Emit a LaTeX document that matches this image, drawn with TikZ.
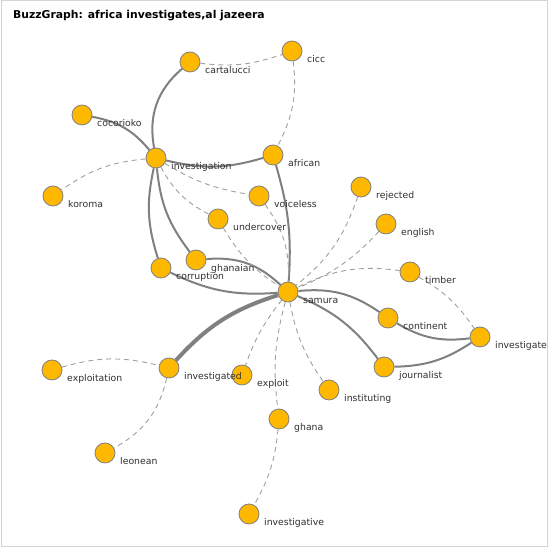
\documentclass[tikz,border=0pt]{standalone}
\usepackage{fontspec}
\setmainfont{DejaVu Sans}
\usepackage{xcolor}

\definecolor{termfill}{HTML}{FFB800}
\definecolor{termline}{HTML}{808080}
\definecolor{linkgray}{HTML}{808080}
\definecolor{dashgray}{HTML}{A0A0A0}
\definecolor{tagtext}{HTML}{303030}
\definecolor{framegray}{HTML}{D4D4D4}

\pgfdeclarelayer{back}
\pgfdeclarelayer{edges}
\pgfsetlayers{back,edges,main}

\tikzset{
  term/.style={circle, draw=termline, fill=termfill, line width=0.8pt, minimum size=20pt, inner sep=0pt},
  tag/.style={anchor=base west, inner sep=0pt, text=tagtext, font=\fontsize{9.3}{11}\selectfont},
  link/.style={draw=linkgray, line width=2pt},
  heavy/.style={draw=linkgray, line width=4pt},
  weak/.style={draw=dashgray, line width=0.9pt, dash pattern=on 5pt off 4pt},
}

\begin{document}
\begin{tikzpicture}[x=1pt, y=1pt]
  \useasboundingbox (0,0) rectangle (550,548);
  \begin{pgfonlayer}{back}
    \fill[white] (0,0) rectangle (550,548);
  \end{pgfonlayer}
  \node[anchor=base west, inner sep=0pt, font=\bfseries\fontsize{10.8}{12}\selectfont] (title) at (13,529) {BuzzGraph: africa investigates,al jazeera};

  \node[term] (cartalucci) at (190,486) {};
  \node[term] (cicc) at (292,497) {};
  \node[term] (cocorioko) at (82,433) {};
  \node[term] (investigation) at (156,390) {};
  \node[term] (african) at (273,393) {};
  \node[term] (koroma) at (53,352) {};
  \node[term] (voiceless) at (259,352) {};
  \node[term] (rejected) at (361,361) {};
  \node[term] (undercover) at (218,329) {};
  \node[term] (english) at (386,324) {};
  \node[term] (ghanaian) at (196,288) {};
  \node[term] (corruption) at (161,280) {};
  \node[term] (timber) at (410,276) {};
  \node[term] (samura) at (288,256) {};
  \node[term] (continent) at (388,230) {};
  \node[term] (investigates) at (480,211) {};
  \node[term] (exploitation) at (52,178) {};
  \node[term] (investigated) at (169,180) {};
  \node[term] (exploit) at (242,173) {};
  \node[term] (journalist) at (384,181) {};
  \node[term] (instituting) at (329,158) {};
  \node[term] (ghana) at (279,129) {};
  \node[term] (leonean) at (105,95) {};
  \node[term] (investigative) at (249,34) {};

  \begin{scope}
    \clip (0,0) rectangle (547,548);
    \node[tag] (cartalucci-t) at (205,474) {cartalucci};
    \node[tag] (cicc-t) at (307,485) {cicc};
    \node[tag] (cocorioko-t) at (97,421) {cocorioko};
    \node[tag] (investigation-t) at (171,378) {investigation};
    \node[tag] (african-t) at (288,381) {african};
    \node[tag] (koroma-t) at (68,340) {koroma};
    \node[tag] (voiceless-t) at (274,340) {voiceless};
    \node[tag] (rejected-t) at (376,349) {rejected};
    \node[tag] (undercover-t) at (233,317) {undercover};
    \node[tag] (english-t) at (401,312) {english};
    \node[tag] (ghanaian-t) at (211,276) {ghanaian};
    \node[tag] (corruption-t) at (176,268) {corruption};
    \node[tag] (timber-t) at (425,264) {timber};
    \node[tag] (samura-t) at (303,244) {samura};
    \node[tag] (continent-t) at (403,218) {continent};
    \node[tag] (investigates-t) at (495,199) {investigates};
    \node[tag] (exploitation-t) at (67,166) {exploitation};
    \node[tag] (investigated-t) at (184,168) {investigated};
    \node[tag] (exploit-t) at (257,161) {exploit};
    \node[tag] (journalist-t) at (399,169) {journalist};
    \node[tag] (instituting-t) at (344,146) {instituting};
    \node[tag] (ghana-t) at (294,117) {ghana};
    \node[tag] (leonean-t) at (120,83) {leonean};
    \node[tag] (investigative-t) at (264,22) {investigative};
  \end{scope}

  \begin{pgfonlayer}{edges}
    \draw[link] (investigation) to[bend left=30] (cartalucci);
    \draw[link] (cocorioko) to[bend left=20] (investigation);
    \draw[link] (investigation) to[bend right=15] (african);
    \draw[link] (investigation) to[bend right=15] (corruption);
    \draw[link] (investigation) to[bend right=16] (ghanaian);
    \draw[link] (african) to[bend left=10] (samura);
    \draw[link] (ghanaian) to[bend left=24] (samura);
    \draw[link] (corruption) to[bend right=15] (samura);
    \draw[heavy] (samura) to[bend right=15] (investigated);
    \draw[link] (samura) to[bend left=20] (continent);
    \draw[link] (samura) to[bend left=15] (journalist);
    \draw[link] (continent) to[bend right=19] (investigates);
    \draw[link] (journalist) to[bend right=16] (investigates);

    \draw[weak] (cartalucci) to[bend right=13] (cicc);
    \draw[weak] (cicc) to[bend left=17] (african);
    \draw[weak] (investigation) to[bend right=15] (koroma);
    \draw[weak] (investigation) to[bend right=11] (voiceless);
    \draw[weak] (investigation) to[bend right=17] (undercover);
    \draw[weak] (voiceless) to[bend left=19] (samura);
    \draw[weak] (undercover) to[bend right=13] (samura);
    \draw[weak] (rejected) to[bend left=16] (samura);
    \draw[weak] (english) to[bend left=12] (samura);
    \draw[weak] (timber) to[bend right=17] (samura);
    \draw[weak] (timber) to[bend left=13] (investigates);
    \draw[weak] (exploitation) to[bend left=15] (investigated);
    \draw[weak] (investigated) to[bend left=24] (leonean);
    \draw[weak] (samura) to[bend right=9] (exploit);
    \draw[weak] (samura) to[bend right=11] (ghana);
    \draw[weak] (samura) to[bend right=12] (instituting);
    \draw[weak] (ghana) to[bend left=12] (investigative);
  \end{pgfonlayer}

  \draw[framegray, line width=1pt] (1,1) rectangle (547,547);
\end{tikzpicture}
\end{document}
